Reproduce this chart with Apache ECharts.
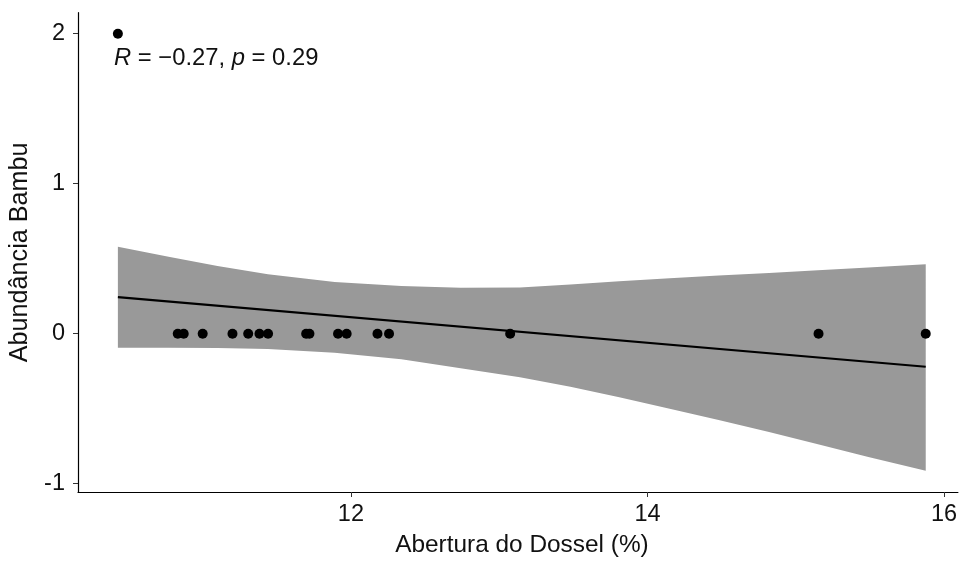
<!DOCTYPE html>
<html>
<head>
<meta charset="utf-8">
<script src="https://cdn.jsdelivr.net/npm/echarts@6/dist/echarts.min.js"></script>
<style>
  html, body { margin: 0; padding: 0; background: #fff; }
  #chart { width: 960px; height: 562px; }
</style>
</head>
<body>
<div id="chart"></div>
<script>
// pontos observados
const aberturaDossel = [10.428, 10.832, 10.872, 11.000, 11.201, 11.307, 11.383, 11.441, 11.698,
  11.720, 11.913, 11.971, 12.179, 12.257, 13.074, 15.154, 15.877]
const abundanciaBambu = [2, 0, 0, 0, 0, 0, 0, 0, 0, 0, 0, 0, 0, 0, 0, 0, 0]

// reta ajustada (lm) e intervalo de confiança
const fitX = [10.428, 15.877]
const fitY = [0.244, -0.220]
const bandX = [10.428, 10.77, 11.10, 11.44, 11.89, 12.34, 12.74, 13.14, 13.48, 13.81,
  14.15, 14.48, 14.82, 15.15, 15.49, 15.877]
const bandUpper = [0.579, 0.513, 0.452, 0.396, 0.345, 0.318, 0.307, 0.309, 0.328, 0.350,
  0.370, 0.388, 0.405, 0.423, 0.441, 0.463]
const bandLower = [-0.093, -0.093, -0.095, -0.102, -0.126, -0.170, -0.230, -0.290, -0.353, -0.424,
  -0.500, -0.575, -0.655, -0.737, -0.822, -0.914]

const xTicks = [12, 14, 16]
const yTicks = [-1, 0, 1, 2]

const fontFamily = "'Liberation Sans', Arial, sans-serif"
const textColor = '#111'

const chart = echarts.init(document.getElementById('chart'), null, { renderer: 'canvas' })

const zip = (xs, ys) => xs.map((x, i) => [x, ys[i]])

// faixa do IC: polígono com borda superior e inferior, via api.coord
function renderBand(params, api) {
  const top = bandX.map((x, i) => api.coord([x, bandUpper[i]]))
  const bottom = bandX.map((x, i) => api.coord([x, bandLower[i]])).reverse()
  return {
    type: 'polygon',
    shape: { points: top.concat(bottom) },
    style: { fill: '#999999' },
    silent: true
  }
}

chart.setOption({
  animation: false,
  textStyle: { fontFamily: fontFamily },
  title: {
    text: '{i|R} = −0.27, {i|p} = 0.29',
    left: 114,
    top: 46,
    padding: 0,
    textStyle: {
      fontFamily: fontFamily,
      fontSize: 23.8,
      fontWeight: 'normal',
      color: textColor,
      rich: {
        i: { fontStyle: 'italic', fontSize: 23.8, fontFamily: fontFamily, color: textColor }
      }
    }
  },
  grid: {
    left: 75.7,
    right: 0,
    top: 12.7,
    bottom: 69.1
  },
  xAxis: {
    type: 'value',
    min: 10.159,
    max: 16.094,
    name: 'Abertura do Dossel (%)',
    nameLocation: 'middle',
    nameGap: 41,
    nameTextStyle: { fontSize: 24.4, color: textColor, fontFamily: fontFamily, padding: [0, 0, 0, 8] },
    axisLine: { onZero: false, lineStyle: { color: '#000', width: 1.2 } },
    axisTick: { length: 5, lineStyle: { color: '#333' }, customValues: xTicks },
    axisLabel: { fontSize: 23.5, color: textColor, margin: 11, customValues: xTicks },
    splitLine: { show: false }
  },
  yAxis: {
    type: 'value',
    min: -1.055,
    max: 2.14,
    name: 'Abundância Bambu',
    nameLocation: 'middle',
    nameRotate: 90,
    nameGap: 45,
    nameTextStyle: { fontSize: 25.2, color: textColor, fontFamily: fontFamily },
    axisLine: { show: true, onZero: false, lineStyle: { color: '#000', width: 1.2 } },
    axisTick: { show: true, length: 5, lineStyle: { color: '#333' }, customValues: yTicks },
    axisLabel: { fontSize: 23.5, color: textColor, margin: 13, customValues: yTicks },
    splitLine: { show: false }
  },
  series: [
    {
      name: 'ic',
      type: 'custom',
      renderItem: renderBand,
      data: [0],
      clip: true,
      silent: true,
      z: 1
    },
    {
      name: 'ajuste',
      type: 'line',
      data: zip(fitX, fitY),
      symbol: 'none',
      lineStyle: { color: '#000', width: 2.2 },
      silent: true,
      z: 2
    },
    {
      name: 'pontos',
      type: 'scatter',
      data: zip(aberturaDossel, abundanciaBambu),
      symbolSize: 10,
      itemStyle: { color: '#000', opacity: 1 },
      z: 3
    }
  ]
})
</script>
</body>
</html>
